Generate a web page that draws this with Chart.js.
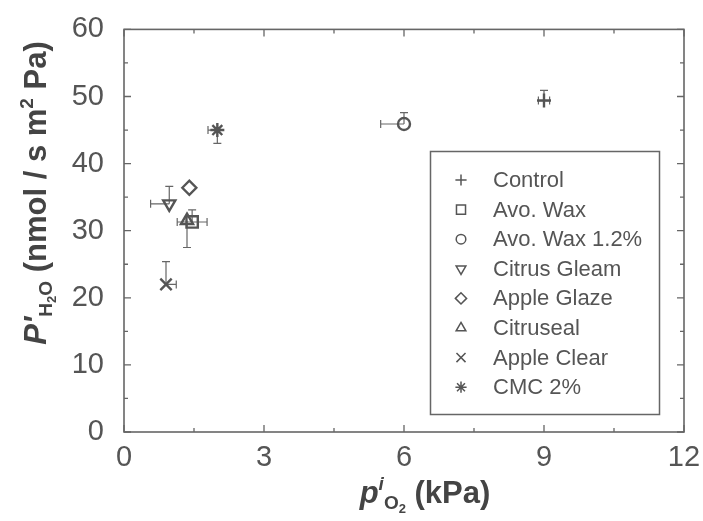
<!DOCTYPE html>
<html>
<head>
<meta charset="utf-8">
<script src="https://cdn.jsdelivr.net/npm/chart.js@4.4.1/dist/chart.umd.min.js"></script>
<style>
html,body{margin:0;padding:0;background:#fff;}
</style>
</head>
<body>
<canvas id="chart" width="703" height="521"></canvas>
<script>
// coatings and their values
const coatings = ["Control","Avo. Wax","Avo. Wax 1.2%","Citrus Gleam","Apple Glaze","Citruseal","Apple Clear","CMC 2%"];
const pO2 = [9.0, 1.46, 6.0, 0.97, 1.40, 1.35, 0.90, 2.0];
const pH2O = [49.4, 31.3, 45.9, 34.0, 36.4, 31.5, 22.0, 45.0];
const xErrLow = [0.12, 0.32, 0.5, 0.4, 0, 0, 0, 0.2];
const xErrHigh = [0.12, 0.32, 0, 0, 0, 0, 0.22, 0];
const yErrLow = [0, 0, 0, 0, 0, 4.0, 0, 2.0];
const yErrHigh = [1.5, 1.8, 1.7, 2.6, 0, 0, 3.4, 0];
const xTicks = [0, 3, 6, 9, 12];
const yTicks = [0, 10, 20, 30, 40, 50, 60];

const markers = ["cross","rect","circle","triangle","rectRot","triangle","crossRot","star"];
const markerTurn = [0,0,0,180,0,0,0,0];
const markerSize = [7,8,6,7,7,7,8,7];

const INK = "#555";
const FONT = "'Liberation Sans', Arial, sans-serif";

function drawRich(ctx, parts, x, y, rot){
ctx.save();
ctx.translate(x, y);
ctx.rotate(rot);
ctx.textAlign = "left";
ctx.textBaseline = "alphabetic";
let total = 0;
parts.forEach(p => { ctx.font = p.f; p.w = ctx.measureText(p.t).width; total += p.w; });
let cx = -total/2;
parts.forEach(p => { ctx.font = p.f; ctx.fillText(p.t, cx, p.dy || 0); cx += p.w; });
ctx.restore();
}

const boxTicks = {
id:"boxTicks",
afterDatasetsDraw(chart){
const {ctx, chartArea:a, scales} = chart;
ctx.save();
ctx.strokeStyle = "#666";
ctx.lineWidth = 1.6;
ctx.strokeRect(a.left, a.top, a.right-a.left, a.bottom-a.top);
ctx.lineWidth = 1.3;
ctx.beginPath();
scales.x.ticks.forEach(t => {
const px = scales.x.getPixelForValue(t.value);
const len = xTicks.includes(t.value) ? 7 : 4;
ctx.moveTo(px, a.bottom); ctx.lineTo(px, a.bottom-len);
ctx.moveTo(px, a.top); ctx.lineTo(px, a.top+len);
});
scales.y.ticks.forEach(t => {
const py = scales.y.getPixelForValue(t.value);
const len = yTicks.includes(t.value) ? 7 : 4;
ctx.moveTo(a.left, py); ctx.lineTo(a.left+len, py);
ctx.moveTo(a.right, py); ctx.lineTo(a.right-len, py);
});
ctx.stroke();
ctx.restore();
}
};

const errorBars = {
id:"errorBars",
beforeDatasetsDraw(chart){
const {ctx, scales} = chart;
const cap = 4;
ctx.save();
ctx.strokeStyle = "#666";
ctx.lineWidth = 1.2;
ctx.beginPath();
pO2.forEach((xv, i) => {
const px = scales.x.getPixelForValue(xv);
const py = scales.y.getPixelForValue(pH2O[i]);
if (yErrHigh[i]) { const e = scales.y.getPixelForValue(pH2O[i]+yErrHigh[i]); ctx.moveTo(px,py); ctx.lineTo(px,e); ctx.moveTo(px-cap,e); ctx.lineTo(px+cap,e); }
if (yErrLow[i]) { const e = scales.y.getPixelForValue(pH2O[i]-yErrLow[i]); ctx.moveTo(px,py); ctx.lineTo(px,e); ctx.moveTo(px-cap,e); ctx.lineTo(px+cap,e); }
if (xErrHigh[i]) { const e = scales.x.getPixelForValue(xv+xErrHigh[i]); ctx.moveTo(px,py); ctx.lineTo(e,py); ctx.moveTo(e,py-cap); ctx.lineTo(e,py+cap); }
if (xErrLow[i]) { const e = scales.x.getPixelForValue(xv-xErrLow[i]); ctx.moveTo(px,py); ctx.lineTo(e,py); ctx.moveTo(e,py-cap); ctx.lineTo(e,py+cap); }
});
ctx.stroke();
ctx.restore();
}
};

const boxLegend = {
id:"boxLegend",
afterDraw(chart){
const ctx = chart.ctx;
ctx.save();
ctx.strokeStyle = "#666";
ctx.lineWidth = 1.5;
ctx.strokeRect(430.5, 151.5, 229, 263);
ctx.textBaseline = "middle";
ctx.textAlign = "left";
coatings.forEach((name, i) => {
const y = 180 + i*29.6;
ctx.strokeStyle = INK;
ctx.fillStyle = "rgba(0,0,0,0)";
Chart.helpers.drawPoint(ctx, {pointStyle:markers[i], rotation:markerTurn[i], radius:markerSize[i]*0.8, borderWidth:2}, 461, y);
ctx.font = "22px " + FONT;
ctx.fillStyle = INK;
ctx.fillText(name, 493, y+1);
});
ctx.restore();
}
};

const axisTitles = {
id:"axisTitles",
afterDraw(chart){
const ctx = chart.ctx;
ctx.save();
ctx.fillStyle = "#444";
const big = "bold 31px " + FONT, bigIt = "italic bold 31px " + FONT;
const sub = "bold 19px " + FONT, sub2 = "bold 13px " + FONT;
drawRich(ctx, [
{t:"p", f:bigIt},
{t:"i", f:"italic bold 19px " + FONT, dy:-13},
{t:"O", f:sub, dy:6},
{t:"2", f:sub2, dy:10},
{t:" (kPa)", f:big}
], 425, 503, 0);
drawRich(ctx, [
{t:"P'", f:bigIt},
{t:"H", f:sub, dy:6},
{t:"2", f:sub2, dy:10},
{t:"O", f:sub, dy:6},
{t:" (nmol / s m", f:big},
{t:"2", f:sub, dy:-13},
{t:" Pa)", f:big}
], 46, 193, -Math.PI/2);
ctx.restore();
}
};

const datasets = coatings.map((name, i) => ({
label:name,
data:[{x:pO2[i], y:pH2O[i]}],
pointStyle:markers[i],
rotation:markerTurn[i],
pointRadius:markerSize[i],
pointHoverRadius:markerSize[i],
pointBorderWidth:2.4,
borderColor:INK,
backgroundColor:"rgba(0,0,0,0)",
pointBackgroundColor:"rgba(0,0,0,0)"
}));

new Chart(document.getElementById("chart"), {
type:"scatter",
data:{datasets:datasets},
options:{
responsive:false,
devicePixelRatio:1,
animation:false,
layout:{padding:{top:25, right:19, left:0, bottom:0}},
plugins:{legend:{display:false}, tooltip:{enabled:false}},
scales:{
x:{
type:"linear", min:0, max:12,
grid:{display:false}, border:{display:false},
ticks:{stepSize:1.5, autoSkip:false, maxRotation:0, padding:1, color:INK,
font:{family:FONT, size:29},
callback:v => xTicks.includes(v) ? String(v) : ""},
afterFit:s => { s.height = 89; }
},
y:{
type:"linear", min:0, max:60,
grid:{display:false}, border:{display:false},
ticks:{stepSize:5, autoSkip:false, padding:12, color:INK,
font:{family:FONT, size:29},
callback:v => yTicks.includes(v) ? String(v) : ""},
afterFit:s => { s.width = 124; }
}
}
},
plugins:[errorBars, boxTicks, boxLegend, axisTitles]
});
</script>
</body>
</html>
